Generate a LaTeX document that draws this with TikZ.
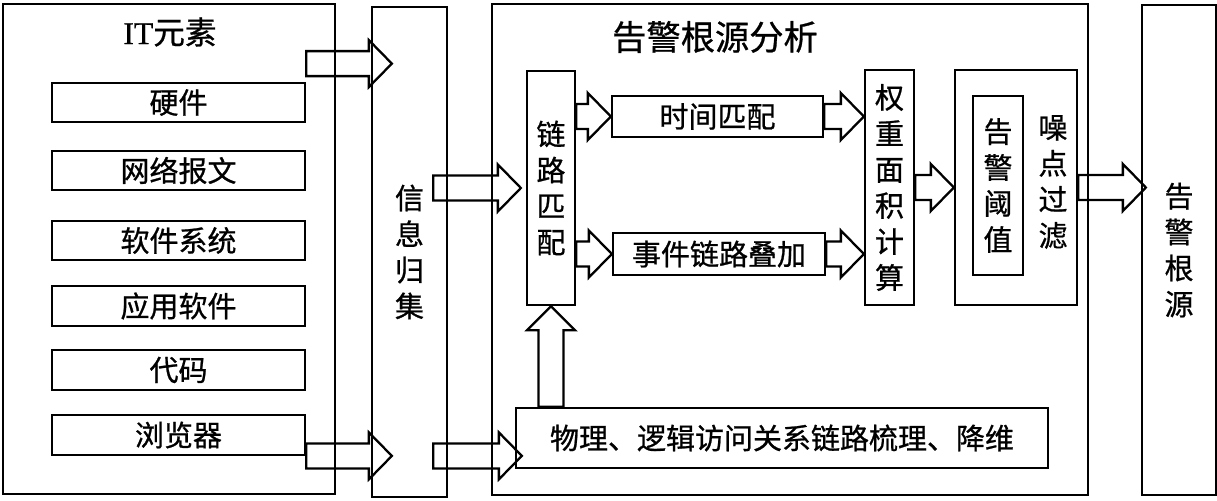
\documentclass[tikz,border=0pt]{standalone}
\usepackage{fontspec}
\setmainfont{Noto Sans CJK SC}[FakeBold=0.8]
\newfontfamily\latinfont{Liberation Serif}[FakeBold=0.8]
\usetikzlibrary{calc}

\newcommand{\bodyfont}{\fontsize{16.5}{20.5}\selectfont}
\newcommand{\titlefont}{\fontsize{19.5}{24}\selectfont}

\begin{document}
\begin{tikzpicture}[x=0.2mm, y=-0.2mm,
  box/.style={draw, line width=1.3pt, inner sep=0pt, font=\bodyfont},
  vtext/.style={align=center, font=\bodyfont},
  hfat/.style={draw, line width=1.3pt, line join=miter,
    to path={let \p1=(\tikztostart), \p2=(\tikztotarget) in
      (\x1,\y1+2.5mm) -- (\x2-4.6mm,\y1+2.5mm) -- (\x2-4.6mm,\y1+4.7mm) -- (\x2,\y1)
      -- (\x2-4.6mm,\y1-4.7mm) -- (\x2-4.6mm,\y1-2.5mm) -- (\x1,\y1-2.5mm) -- cycle}},
  vfat/.style={draw, line width=1.3pt, line join=miter,
    to path={let \p1=(\tikztostart), \p2=(\tikztotarget) in
      (\x1-2.5mm,\y1) -- (\x1-2.5mm,\y2-4.8mm) -- (\x1-4.8mm,\y2-4.8mm) -- (\x1,\y2)
      -- (\x1+4.8mm,\y2-4.8mm) -- (\x1+2.5mm,\y2-4.8mm) -- (\x1+2.5mm,\y1) -- cycle}}]

\useasboundingbox (0,0) rectangle (1217,500);

% IT elements
\node[box, minimum width=66.4mm, minimum height=98mm] (it) at (169,249) {};
\node[font=\fontsize{18}{22}\selectfont] (ittitle) at (170,32) {{\latinfont IT}元素};
\foreach \name/\yy/\txt in {hw/102.5/硬件, net/170.5/网络报文, sw/240.5/软件系统,
    app/306/应用软件, code/370/代码, web/435/浏览器}
  \node[box, minimum width=50.6mm, minimum height=7.9mm] (\name) at (178.5,\yy) {\txt};

\node[box, vtext, minimum width=15mm, minimum height=98mm] (info) at (409.5,252) {信\\息\\归\\集};

% root cause analysis
\node[box, minimum width=119.2mm, minimum height=98.2mm] (rca) at (790,249.5) {};
\node[font=\titlefont] (rcatitle) at (715,37) {告警根源分析};

\node[box, vtext, minimum width=9.6mm, minimum height=46.8mm] (link) at (551,188) {链\\路\\匹\\配};
\node[box, minimum width=42.2mm, minimum height=8.2mm] (time) at (717.5,116.5) {时间匹配};
\node[box, minimum width=42.4mm, minimum height=8.4mm] (event) at (719,254) {事件链路叠加};
\node[box, vtext, minimum width=9.8mm, minimum height=47mm] (weight) at (889.5,187.5) {权\\重\\面\\积\\计\\算};
\node[box, minimum width=24.4mm, minimum height=47mm] (noise) at (1016,187.5) {};
\node[box, vtext, minimum width=10mm, minimum height=35.8mm] (thr) at (998,185.5) {告\\警\\阈\\值};
\node[vtext] (noisetxt) at (1053,182) {噪\\点\\过\\滤};
\node[box, minimum width=106.4mm, minimum height=12mm] (dim) at (782,438) {物理、逻辑访问关系链路梳理、降维};

\node[box, vtext, minimum width=14.8mm, minimum height=98mm] (root) at (1179,250) {告\\警\\根\\源};

% block arrows
\draw[hfat] ([yshift=3.6mm]hw.north east) to ($(info.west)+(4.2mm,0)$);
\draw[hfat] (web.south east) to ($(info.west)+(4.2mm,0)$);
\draw[hfat] ($(info.east |- link.west)+(-3mm,0)$) to ($(link.west)+(-1mm,0)$);
\draw[hfat] ($(info.east |- web.south)+(-3mm,0)$) to ($(dim.west)+(1.4mm,0)$);
\draw[hfat] (link.east |- time.west) to (time.west);
\draw[hfat] (link.east |- event.west) to (event.west);
\draw[hfat] (time.east) to (weight.west);
\draw[hfat] (event.east) to (weight.west);
\draw[hfat] (weight.east) to (noise.west);
\draw[hfat] (noise.east) to ($(root.west)+(1mm,0)$);
\draw[vfat] (dim.north -| link.south) to (link.south);

\end{tikzpicture}
\end{document}
